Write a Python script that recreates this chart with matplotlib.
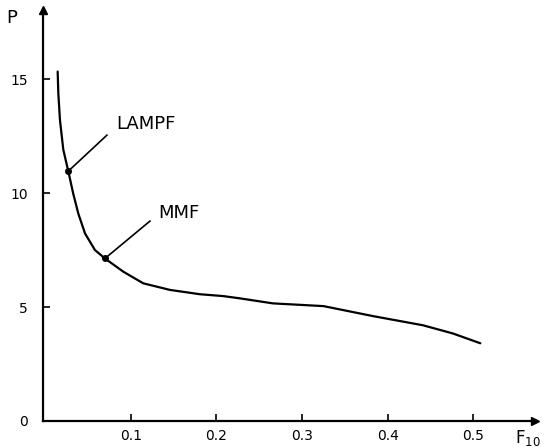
import matplotlib
matplotlib.use('Agg')
from matplotlib import pyplot as plt

# curve
f10 = [0.0148, 0.0156, 0.0175, 0.0214, 0.0272, 0.033, 0.0389, 0.0467, 0.0583, 0.070,
       0.0914, 0.1147, 0.1459, 0.181, 0.208, 0.2275, 0.266, 0.325, 0.383, 0.441,
       0.476, 0.508]
p = [15.33, 14.37, 13.2, 11.9, 10.96, 9.97, 9.1, 8.23, 7.5, 7.13,
     6.55, 6.04, 5.75, 5.56, 5.48, 5.38, 5.16, 5.04, 4.6, 4.2,
     3.84, 3.41]

# marked points and their labels
point_names = ['LAMPF', 'MMF']
point_x = [0.0272, 0.070]
point_y = [10.96, 7.13]
leader_x = [0.0723, 0.1225]
leader_y = [12.54, 8.77]
label_x = [0.0828, 0.132]
label_y = [13.05, 9.14]

x_ticks = [0.1, 0.2, 0.3, 0.4, 0.5]
x_tick_labels = ['0.1', '0.2', '0.3', '0.4', '0.5']
y_ticks = [0, 5, 10, 15]

W, H = 546, 447
fig = plt.figure(figsize=(W / 100, H / 100), dpi=100)
ax = fig.add_axes([43 / W, (H - 421) / H, (535 - 43) / W, (421 - 10) / H])

ax.plot(f10, p, color='black', lw=1.6, solid_capstyle='round', solid_joinstyle='round')
ax.plot(point_x, point_y, 'o', color='black', ms=4)
for name, px, py, ex, ey, lx, ly in zip(point_names, point_x, point_y,
                                         leader_x, leader_y, label_x, label_y):
    ax.plot([px, ex], [py, ey], color='black', lw=1.2)
    ax.text(lx, ly, name, fontsize=13, ha='left', va='center')

ax.set_xlim(-0.0023, 0.5718)
ax.set_ylim(0, 18.03)
ax.spines['top'].set_visible(False)
ax.spines['right'].set_visible(False)
for s in ['left', 'bottom']:
    ax.spines[s].set_linewidth(1.6)

# arrow heads on the axes
ax.plot(1, 0, '>', color='black', ms=6, transform=ax.transAxes, clip_on=False)
ax.plot(0, 1, '^', color='black', ms=6, transform=ax.transAxes, clip_on=False)

ax.set_xticks(x_ticks)
ax.set_xticklabels(x_tick_labels)
ax.set_yticks(y_ticks)
ax.tick_params(axis='x', direction='in', length=5, width=1.2, pad=6, labelsize=10)
ax.tick_params(axis='y', direction='in', length=5, width=1.2, pad=11, labelsize=10)

fig.text(12 / W, 1 - 18 / H, 'P', fontsize=13, ha='center', va='center')
fig.text(528 / W, 1 - 438 / H, r'$\mathregular{F_{10}}$', fontsize=12, ha='center', va='center')

fig.savefig('out.png', dpi=100)
